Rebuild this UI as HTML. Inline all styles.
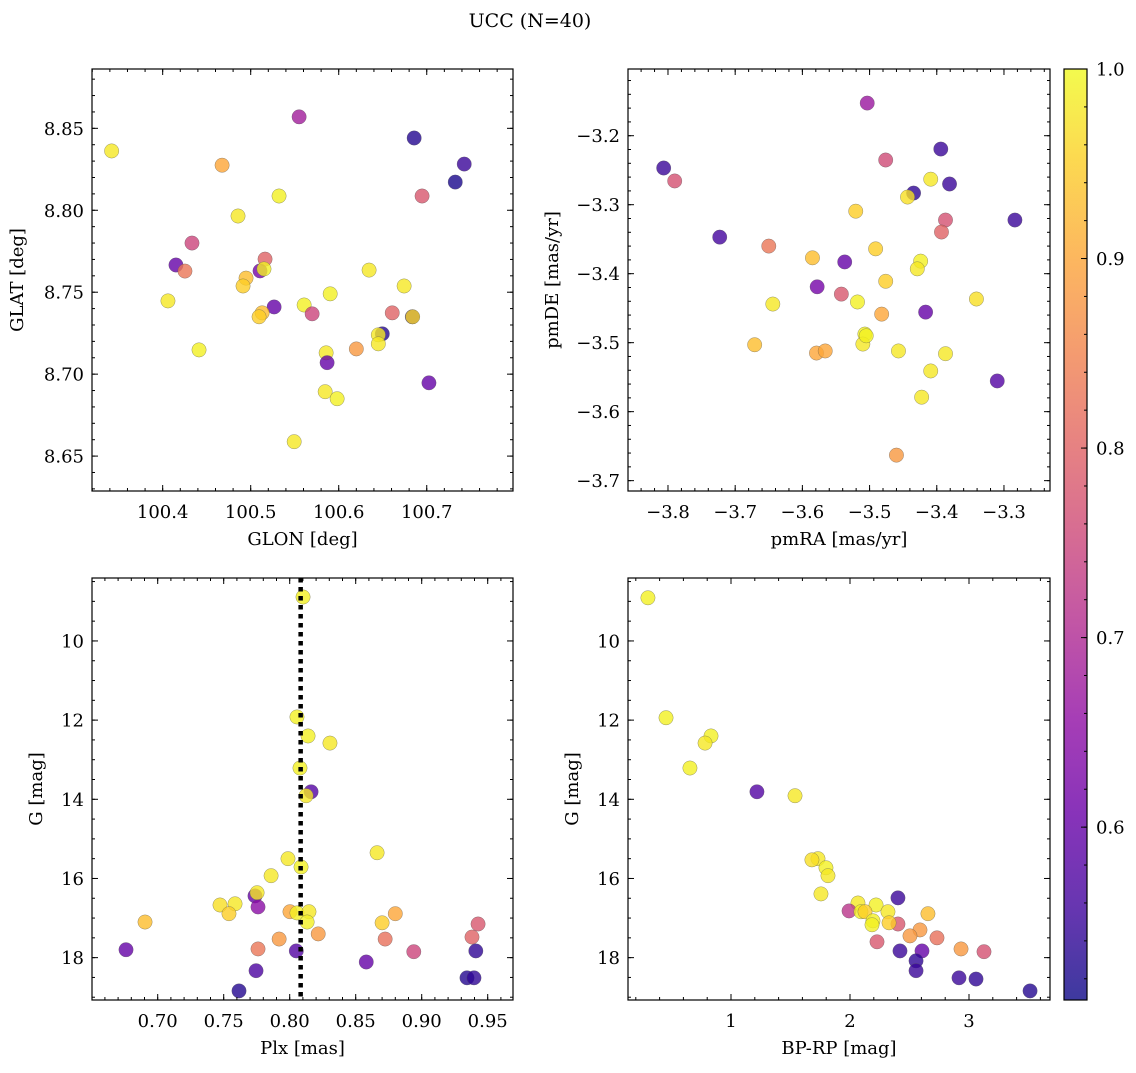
<!DOCTYPE html>
<html><head><meta charset="utf-8"><style>
body{margin:0;background:#fff}
svg{font-family:"DejaVu Serif","Liberation Serif",serif}
</style></head><body>
<svg id="fig" width="1136" height="1068" viewBox="0 0 1136 1068" xmlns="http://www.w3.org/2000/svg">
<text x="530" y="27" font-size="19" text-anchor="middle">UCC (N=40)</text>
<defs><linearGradient id="plasma" x1="0" y1="1" x2="0" y2="0"></linearGradient></defs>
</svg>
<script>
// ---- data: top-left (GLON / GLAT) ----
const glon=[100.342,100.4675,100.555,100.6857,100.7426,100.7324,100.6947,100.5322,100.4856,100.4333,100.4151,100.4253,100.5163,100.4947,100.5106,100.5151,100.6345,100.4913,100.5903,100.6743,100.5266,100.5607,100.406,100.513,100.5095,100.5698,100.6608,100.6836,100.6495,100.645,100.645,100.4413,100.62,100.5857,100.5868,100.7025,100.5846,100.5982,100.5494,100.684];
const glat=[8.8362,8.8275,8.857,8.8441,8.8282,8.8172,8.8087,8.8087,8.7965,8.78,8.7666,8.7629,8.7702,8.7586,8.763,8.7642,8.7635,8.7538,8.749,8.7538,8.741,8.7422,8.7447,8.7374,8.735,8.7368,8.7374,8.735,8.7246,8.724,8.7185,8.7148,8.7154,8.713,8.707,8.6947,8.6893,8.685,8.6588,8.735];
const probTL=[0.98,0.9,0.68,0.53,0.55,0.52,0.78,0.99,0.98,0.75,0.6,0.83,0.8,0.93,0.62,0.99,0.98,0.95,0.99,0.98,0.6,0.99,0.98,0.93,0.95,0.75,0.8,0.53,0.53,0.98,0.98,0.99,0.88,0.98,0.6,0.6,0.98,0.99,0.98,0.96];
// ---- data: top-right (pmRA / pmDE) ----
const pmra=[-3.5035,-3.8064,-3.79,-3.476,-3.394,-3.4345,-3.4435,-3.409,-3.381,-3.2837,-3.387,-3.393,-3.5206,-3.723,-3.65,-3.491,-3.585,-3.537,-3.424,-3.429,-3.476,-3.578,-3.542,-3.644,-3.341,-3.518,-3.482,-3.4166,-3.507,-3.51,-3.671,-3.579,-3.566,-3.457,-3.387,-3.31,-3.409,-3.4225,-3.46,-3.505];
const pmde=[-3.1527,-3.2468,-3.2656,-3.2352,-3.2193,-3.2831,-3.2889,-3.263,-3.27,-3.3222,-3.3222,-3.3396,-3.3094,-3.347,-3.36,-3.364,-3.377,-3.383,-3.3818,-3.393,-3.411,-3.419,-3.4296,-3.444,-3.4367,-3.441,-3.4586,-3.4557,-3.4875,-3.502,-3.503,-3.515,-3.512,-3.512,-3.516,-3.5555,-3.541,-3.579,-3.663,-3.49];
const probTR=[0.67,0.55,0.77,0.76,0.55,0.54,0.97,0.98,0.55,0.55,0.77,0.8,0.95,0.56,0.83,0.95,0.93,0.6,0.99,0.98,0.95,0.62,0.78,0.98,0.97,0.99,0.9,0.6,0.99,0.98,0.93,0.9,0.9,0.98,0.98,0.58,0.98,0.98,0.88,0.99];
// ---- data: bottom-left (Plx / G) ----
const plx=[0.8101,0.8055,0.8139,0.8305,0.8078,0.8162,0.8124,0.8662,0.7987,0.8086,0.7859,0.7737,0.7753,0.7472,0.7586,0.754,0.776,0.8002,0.8055,0.8146,0.88,0.87,0.8132,0.6904,0.9427,0.8216,0.9381,0.8723,0.792,0.776,0.676,0.805,0.894,0.941,0.858,0.7745,0.9343,0.9396,0.7616];
const gmagL=[8.89,11.92,12.4,12.58,13.21,13.81,13.91,15.35,15.5,15.71,15.93,16.44,16.36,16.67,16.64,16.89,16.72,16.84,16.87,16.84,16.89,17.12,17.1,17.1,17.15,17.4,17.48,17.53,17.53,17.78,17.8,17.83,17.85,17.83,18.11,18.33,18.51,18.51,18.84];
const probBL=[0.99,0.99,0.99,0.98,0.99,0.58,0.98,0.98,0.98,0.99,0.98,0.6,0.98,0.97,0.98,0.95,0.65,0.9,0.99,0.98,0.9,0.95,0.99,0.93,0.78,0.88,0.8,0.82,0.88,0.83,0.6,0.58,0.75,0.54,0.6,0.57,0.53,0.54,0.53];
const plxRef=[0.8083];
// ---- data: bottom-right (BP-RP / G) ----
const bprp=[0.302,0.454,0.832,0.782,0.655,1.218,1.538,1.731,1.68,1.798,1.815,1.756,2.403,2.067,2.219,2.655,1.992,2.092,2.126,2.319,2.193,2.403,2.328,2.185,2.588,2.504,2.731,2.227,2.933,3.126,2.42,2.605,2.555,2.555,2.916,3.059,3.513];
const gmagR=[8.91,11.94,12.4,12.58,13.21,13.81,13.91,15.5,15.53,15.73,15.93,16.39,16.49,16.62,16.67,16.89,16.82,16.84,16.84,16.84,17.07,17.15,17.12,17.17,17.3,17.45,17.5,17.6,17.78,17.85,17.83,17.83,18.08,18.33,18.51,18.54,18.84];
const probBR=[0.99,0.99,0.99,0.98,0.99,0.58,0.98,0.98,0.97,0.99,0.98,0.98,0.55,0.98,0.99,0.93,0.72,0.99,0.95,0.98,0.99,0.78,0.95,0.99,0.88,0.88,0.82,0.78,0.88,0.77,0.55,0.6,0.54,0.55,0.55,0.54,0.53];
const cbTicks=[0.6,0.7,0.8,0.9,1.0];

const NS="http://www.w3.org/2000/svg";
const svg=document.getElementById('fig');
const FS=18;
function mk(tag,attrs,parent){const e=document.createElementNS(NS,tag);for(const k in attrs)e.setAttribute(k,attrs[k]);(parent||svg).appendChild(e);return e;}
const stops=[[13,8,135],[65,4,157],[106,0,168],[143,13,164],[177,42,144],[204,71,120],[225,100,98],[242,132,75],[252,166,54],[252,206,37],[240,249,33]];
const CMIN=0.5088,CMAX=1.0;
function plasma(t){t=Math.max(0,Math.min(1,t));const f=t*10,i=Math.min(9,Math.floor(f)),r=f-i;const a=stops[i],b=stops[i+1];return `rgb(${a.map((v,k)=>Math.round(v+(b[k]-v)*r)).join(',')})`;}
function cmap(p){return plasma((p-CMIN)/(CMAX-CMIN));}
function fmt(v,d){const s=Math.abs(v).toFixed(d);return (v<-1e-9?'\u2212':'')+s;}

function panel(o){
  const g=mk('g',{});
  
  
  const X=v=>o.L+(v-o.x0)/(o.x1-o.x0)*(o.R-o.L);
  const Y=v=>o.T+(v-o.y0)/(o.y1-o.y0)*(o.B-o.T);
  const pg=mk('g',{},g);
  
  
  for(let i=0;i<o.xs.length;i++){
    const c=mk('circle',{cx:X(o.xs[i]),cy:Y(o.ys[i]),r:7.2,fill:cmap(o.ps[i]),'fill-opacity':0.8,stroke:'#555','stroke-opacity':0.6,'stroke-width':0.5},pg);
    
    
  }
  if(o.vline!==undefined){
    const l=mk('line',{x1:X(o.vline),x2:X(o.vline),y1:o.T,y2:o.B,stroke:'#000','stroke-width':4.5,'stroke-dasharray':'4.5 4.5'},g);
    
    
  }
  const fr=mk('rect',{x:o.L,y:o.T,width:o.R-o.L,height:o.B-o.T,fill:'none',stroke:'#000','stroke-width':1.2},g);
  
  
  const tk=(x1,y1,x2,y2)=>mk('line',{x1,y1,x2,y2,stroke:'#000','stroke-width':1},g);
  const eps=1e-9;
  for(let v=Math.ceil(Math.min(o.x0,o.x1)/o.xmin-eps)*o.xmin;v<=Math.max(o.x0,o.x1)+eps;v+=o.xmin){const x=X(v);tk(x,o.B,x,o.B-3);tk(x,o.T,x,o.T+3);}
  for(let v=Math.ceil(Math.min(o.y0,o.y1)/o.ymin-eps)*o.ymin;v<=Math.max(o.y0,o.y1)+eps;v+=o.ymin){const y=Y(v);tk(o.L,y,o.L+3,y);tk(o.R,y,o.R-3,y);}
  o.xt.forEach(v=>{const x=X(v);tk(x,o.B,x,o.B-6);tk(x,o.T,x,o.T+6);
    const t=mk('text',{x:x,y:o.B+27,'font-size':FS,'text-anchor':'middle'},g);t.textContent=fmt(v,o.xd);
    });
  o.yt.forEach(v=>{const y=Y(v);tk(o.L,y,o.L+6,y);tk(o.R,y,o.R-6,y);
    const t=mk('text',{x:o.L-8,y:y+6.5,'font-size':FS,'text-anchor':'end'},g);t.textContent=fmt(v,o.yd);
    });
  const xl=mk('text',{x:(o.L+o.R)/2,y:o.B+54,'font-size':FS,'text-anchor':'middle'},g);xl.textContent=o.xlab;
  
  const yl=mk('text',{x:o.ylx,y:(o.T+o.B)/2,'font-size':FS,'text-anchor':'middle',transform:`rotate(-90 ${o.ylx} ${(o.T+o.B)/2})`},g);yl.textContent=o.ylab;
  
}
panel({name:'glon-glat-panel',L:92,R:513,T:69,B:491,x0:100.3197,x1:100.798,y0:8.8862,y1:8.6287,xs:glon,ys:glat,ps:probTL,
  xt:[100.4,100.5,100.6,100.7],xd:1,yt:[8.65,8.7,8.75,8.8,8.85],yd:2,xmin:0.02,ymin:0.01,xlab:'GLON [deg]',ylab:'GLAT [deg]',ylx:23});
panel({name:'pm-panel',L:628,R:1050,T:69,B:491,x0:-3.8595,x1:-3.2315,y0:-3.1033,y1:-3.715,xs:pmra,ys:pmde,ps:probTR,
  xt:[-3.8,-3.7,-3.6,-3.5,-3.4,-3.3],xd:1,yt:[-3.2,-3.3,-3.4,-3.5,-3.6,-3.7],yd:1,xmin:0.02,ymin:0.02,xlab:'pmRA [mas/yr]',ylab:'pmDE [mas/yr]',ylx:558});
panel({name:'plx-g-panel',L:92,R:513,T:578,B:1000,x0:0.70-(157.7-92)/1320,x1:0.70+(513-157.7)/1320,y0:8.41,y1:19.07,xs:plx,ys:gmagL,ps:probBL,vline:plxRef[0],
  xt:[0.70,0.75,0.80,0.85,0.90,0.95],xd:2,yt:[10,12,14,16,18],yd:0,xmin:0.01,ymin:0.5,xlab:'Plx [mas]',ylab:'G [mag]',ylx:42});
panel({name:'cmd-panel',L:628,R:1050,T:578,B:1000,x0:1-(731-628)/119,x1:1+(1050-731)/119,y0:8.41,y1:19.07,xs:bprp,ys:gmagR,ps:probBR,
  xt:[1,2,3],xd:0,yt:[10,12,14,16,18],yd:0,xmin:0.2,ymin:0.5,xlab:'BP-RP [mag]',ylab:'G [mag]',ylx:578});

const grad=document.getElementById('plasma');
for(let i=0;i<=20;i++){mk('stop',{offset:i/20,'stop-color':plasma(i/20)},grad);}
const cb=mk('g',{});


const CT=69,CB=1000,CL=1064,CR=1087;
mk('rect',{x:CL,y:CT,width:CR-CL,height:CB-CT,fill:'url(#plasma)','fill-opacity':0.8},cb);
mk('rect',{x:CL,y:CT,width:CR-CL,height:CB-CT,fill:'none',stroke:'#000','stroke-width':1.2},cb);
const CY=v=>CB-(v-CMIN)/(CMAX-CMIN)*(CB-CT);
for(let v=0.52;v<=1.0001;v+=0.02){mk('line',{x1:CR,x2:CR-3,y1:CY(v),y2:CY(v),stroke:'#000','stroke-width':1},cb);}
cbTicks.forEach(v=>{const y=CY(v);mk('line',{x1:CR,x2:CR-6,y1:y,y2:y,stroke:'#000','stroke-width':1},cb);
  const t=mk('text',{x:CR+9,y:y+6.5,'font-size':FS},cb);t.textContent=v.toFixed(1);
  });
</script>
</body></html>
